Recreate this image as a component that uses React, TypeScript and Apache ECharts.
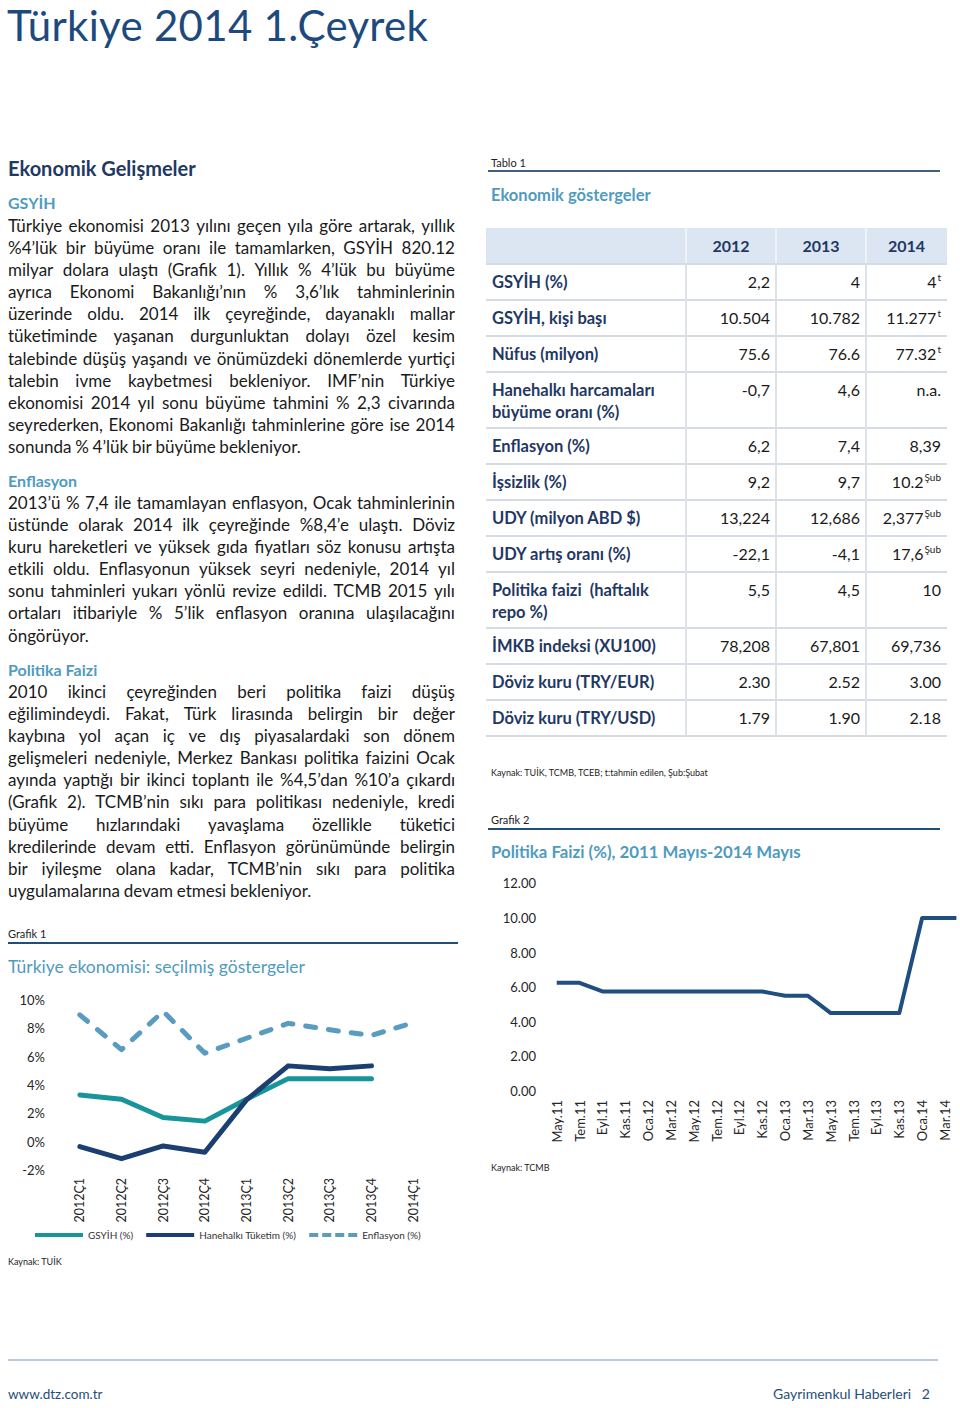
import React, { useEffect, useRef } from "react";
import * as echarts from "echarts";

// ---------- Data ----------
const quarters = ["2012Ç1", "2012Ç2", "2012Ç3", "2012Ç4", "2013Ç1", "2013Ç2", "2013Ç3", "2013Ç4", "2014Ç1"];
const gsyihGrowth = [3.3, 3.0, 1.7, 1.45, 3.0, 4.45, 4.45, 4.45, null];
const householdConsumption = [-0.35, -1.2, -0.3, -0.75, 2.95, 5.35, 5.15, 5.35, null];
const inflation = [8.95, 6.5, 9.2, 6.25, 7.3, 8.35, 7.9, 7.5, 8.4];
const chart1Ticks = { min: -2, max: 10, step: 2 };

const months = [
  "May.11", "Haz.11", "Tem.11", "Ağu.11", "Eyl.11", "Eki.11", "Kas.11", "Ara.11",
  "Oca.12", "Şub.12", "Mar.12", "Nis.12", "May.12", "Haz.12", "Tem.12", "Ağu.12",
  "Eyl.12", "Eki.12", "Kas.12", "Ara.12", "Oca.13", "Şub.13", "Mar.13", "Nis.13",
  "May.13", "Haz.13", "Tem.13", "Ağu.13", "Eyl.13", "Eki.13", "Kas.13", "Ara.13",
  "Oca.14", "Şub.14", "Mar.14", "Nis.14",
];
const policyRate = [
  6.25, 6.25, 6.25, 6.0, 5.75, 5.75, 5.75, 5.75,
  5.75, 5.75, 5.75, 5.75, 5.75, 5.75, 5.75, 5.75,
  5.75, 5.75, 5.75, 5.625, 5.5, 5.5, 5.5, 5.0,
  4.5, 4.5, 4.5, 4.5, 4.5, 4.5, 4.5, 7.25,
  10, 10, 10, 10,
];
const chart2Ticks = { min: 0, max: 12, step: 2 };

const tableYears = ["2012", "2013", "2014"];
const rowLabels = [
  ["GSYİH (%)"],
  ["GSYİH, kişi başı"],
  ["Nüfus (milyon)"],
  ["Hanehalkı harcamaları", "büyüme oranı (%)"],
  ["Enflasyon (%)"],
  ["İşsizlik (%)"],
  ["UDY (milyon ABD $)"],
  ["UDY artış oranı (%)"],
  ["Politika faizi  (haftalık", "repo %)"],
  ["İMKB indeksi (XU100)"],
  ["Döviz kuru (TRY/EUR)"],
  ["Döviz kuru (TRY/USD)"],
];
const values2012 = ["2,2", "10.504", "75.6", "-0,7", "6,2", "9,2", "13,224", "-22,1", "5,5", "78,208", "2.30", "1.79"];
const values2013 = ["4", "10.782", "76.6", "4,6", "7,4", "9,7", "12,686", "-4,1", "4,5", "67,801", "2.52", "1.90"];
const values2014 = ["4", "11.277", "77.32", "n.a.", "8,39", "10.2", "2,377", "17,6", "10", "69,736", "3.00", "2.18"];
const notes2014 = ["t", "t", "t", "", "", "Şub", "Şub", "Şub", "", "", "", ""];

const gsyihLines = [
  "Türkiye ekonomisi 2013 yılını geçen yıla göre artarak, yıllık",
  "%4’lük bir büyüme oranı ile tamamlarken, GSYİH 820.12",
  "milyar dolara ulaştı (Grafik 1). Yıllık % 4’lük bu büyüme",
  "ayrıca Ekonomi Bakanlığı’nın % 3,6’lık tahminlerinin",
  "üzerinde oldu.  2014 ilk çeyreğinde, dayanaklı mallar",
  "tüketiminde yaşanan durgunluktan dolayı özel kesim",
  "talebinde düşüş yaşandı ve önümüzdeki dönemlerde yurtiçi",
  "talebin ivme kaybetmesi bekleniyor. IMF’nin Türkiye",
  "ekonomisi 2014 yıl sonu büyüme tahmini % 2,3 civarında",
  "seyrederken, Ekonomi Bakanlığı tahminlerine göre ise 2014",
  "sonunda % 4’lük bir büyüme bekleniyor.",
];
const enflasyonLines = [
  "2013’ü % 7,4 ile tamamlayan enflasyon, Ocak tahminlerinin",
  "üstünde olarak 2014 ilk çeyreğinde %8,4’e ulaştı.  Döviz",
  "kuru hareketleri ve yüksek gıda fiyatları söz konusu artışta",
  "etkili oldu.  Enflasyonun yüksek seyri nedeniyle, 2014 yıl",
  "sonu tahminleri yukarı yönlü revize edildi.  TCMB 2015 yılı",
  "ortaları itibariyle % 5’lik enflasyon oranına ulaşılacağını",
  "öngörüyor.",
];
const faizLines = [
  "2010 ikinci çeyreğinden beri politika faizi düşüş",
  "eğilimindeydi.  Fakat, Türk lirasında belirgin bir değer",
  "kaybına yol açan iç ve dış piyasalardaki son dönem",
  "gelişmeleri nedeniyle, Merkez Bankası politika faizini Ocak",
  "ayında yaptığı bir ikinci toplantı ile %4,5’dan %10’a çıkardı",
  "(Grafik 2).  TCMB’nin sıkı para politikası nedeniyle, kredi",
  "büyüme hızlarındaki yavaşlama özellikle tüketici",
  "kredilerinde devam etti.  Enflasyon görünümünde belirgin",
  "bir iyileşme olana kadar, TCMB’nin sıkı para politika",
  "uygulamalarına devam etmesi bekleniyor.",
];

// ---------- Styles ----------
const FONT = "Lato, 'Open Sans', sans-serif";
const NAVY = "#1f3864";
const TITLE_BLUE = "#1d4a7e";
const HEAD_BLUE = "#4f9bc0";
const TEXT = "#1a1a1a";
const TEAL = "#17959b";
const DARK = "#1c3f72";
const LIGHT = "#5a9bc0";

const SOLID_ICON = "path://M0,0H48V4H0Z";
const DASH_ICON = "path://M0,0H9V4H0Z M13,0H22V4H13Z M26,0H35V4H26Z M39,0H48V4H39Z";

function EChart({ option, style }: { option: any; style: React.CSSProperties }) {
  const ref = useRef<HTMLDivElement>(null);
  useEffect(() => {
    const chart = echarts.init(ref.current as HTMLDivElement, null, { renderer: "svg" });
    chart.setOption(option);
    return () => chart.dispose();
  }, []);
  return <div ref={ref} style={style} />;
}

function Txt(props: {
  x: number; cy: number; size: number; color?: string; weight?: number | string;
  right?: boolean; children: React.ReactNode;
}) {
  const h = Math.round(props.size * 1.4);
  const st: React.CSSProperties = {
    position: "absolute",
    top: props.cy - h / 2,
    height: h,
    lineHeight: h + "px",
    fontSize: props.size,
    color: props.color || TEXT,
    fontWeight: props.weight || 400,
    whiteSpace: "nowrap",
  };
  if (props.right) st.right = 960 - props.x;
  else st.left = props.x;
  return <div style={st}>{props.children}</div>;
}

function Paragraph({ lines, x, cy0, width, lh, size }: { lines: string[]; x: number; cy0: number; width: number; lh: number; size: number }) {
  return (
    <>
      {lines.map((ln, i) => {
        const last = i === lines.length - 1;
        const words = ln.split(/\s+/);
        return (
          <div
            key={i}
            style={{
              position: "absolute",
              left: x,
              top: cy0 + i * lh - lh / 2,
              width,
              height: lh,
              lineHeight: lh + "px",
              fontSize: size,
              color: TEXT,
              whiteSpace: "nowrap",
              display: "flex",
              justifyContent: last ? "flex-start" : "space-between",
              gap: last ? "0.22em" : 0,
            }}
          >
            {words.map((w, j) => (
              <span key={j}>{w}</span>
            ))}
          </div>
        );
      })}
    </>
  );
}

function HLine({ x1, x2, y, color, w }: { x1: number; x2: number; y: number; color: string; w: number }) {
  return <div style={{ position: "absolute", left: x1, top: y - w / 2, width: x2 - x1, height: w, background: color }} />;
}

function Table() {
  const left = 486;
  const top = 228;
  const colW = [200, 90, 90, 81];
  const headH = 36;
  const rowH = rowLabels.map((l) => (l.length > 1 ? 56 : 36));
  const colX = [left, left + colW[0], left + colW[0] + colW[1], left + colW[0] + colW[1] + colW[2]];
  const totalW = colW.reduce((a, b) => a + b, 0);
  const els: React.ReactNode[] = [];
  els.push(<div key="hbg" style={{ position: "absolute", left, top, width: totalW, height: headH, background: "#dbe6f2" }} />);
  tableYears.forEach((yr, i) => {
    els.push(
      <div key={"h" + i} style={{ position: "absolute", left: colX[i + 1], top, width: colW[i + 1], height: headH, lineHeight: headH + "px", textAlign: "center", fontWeight: 700, fontSize: 16, color: NAVY }}>
        {yr}
      </div>
    );
  });
  for (let i = 1; i < 4; i++) {
    els.push(<div key={"hs" + i} style={{ position: "absolute", left: colX[i] - 1, top, width: 2, height: headH, background: "#eef3f9" }} />);
  }
  let y = top + headH;
  const yStart = y;
  rowLabels.forEach((lab, r) => {
    const h = rowH[r];
    els.push(<HLine key={"rl" + r} x1={left} x2={left + totalW} y={y} color="#d6dce4" w={2} />);
    els.push(
      <div key={"lab" + r} style={{ position: "absolute", left: left + 6, top: y + 7, lineHeight: "22px", fontWeight: 700, fontSize: 16.5, color: NAVY, whiteSpace: "pre" }}>
        {lab.map((l, k) => (
          <div key={k}>{l}</div>
        ))}
      </div>
    );
    const vals = [values2012[r], values2013[r], values2014[r]];
    vals.forEach((v, c) => {
      const note = c === 2 ? notes2014[r] : "";
      els.push(
        <div key={"v" + r + "_" + c} style={{ position: "absolute", left: colX[c + 1], top: y + 7, width: colW[c + 1] - 6, textAlign: "right", lineHeight: "22px", fontSize: 16, color: TEXT, whiteSpace: "nowrap" }}>
          {v}
          {note ? <span style={{ fontSize: 10, position: "relative", top: -7, marginLeft: 1 }}>{note}</span> : null}
        </div>
      );
    });
    y += h;
  });
  els.push(<HLine key="bottom" x1={left} x2={left + totalW} y={y} color="#d6dce4" w={2} />);
  for (let i = 1; i < 4; i++) {
    els.push(<div key={"vs" + i} style={{ position: "absolute", left: colX[i] - 1, top: yStart, width: 2, height: y - yStart, background: "#dde2e8" }} />);
  }
  return <>{els}</>;
}

const chart1Option = {
  animation: false,
  textStyle: { fontFamily: FONT },
  grid: { left: 59, top: 25, width: 375, height: 170 },
  legend: {
    left: 30,
    top: 250,
    itemWidth: 48,
    itemHeight: 4,
    itemGap: 13,
    textStyle: { fontSize: 10, color: "#333", fontFamily: FONT },
    data: [
      { name: "GSYİH (%)", icon: SOLID_ICON },
      { name: "Hanehalkı Tüketim (%)", icon: SOLID_ICON },
      { name: "Enflasyon (%)", icon: DASH_ICON },
    ],
  },
  xAxis: {
    type: "category",
    data: quarters,
    boundaryGap: true,
    axisLine: { show: false },
    axisTick: { show: false },
    axisLabel: { rotate: 90, margin: 8, fontSize: 12.5, color: "#262626", interval: 0 },
  },
  yAxis: {
    type: "value",
    min: chart1Ticks.min,
    max: chart1Ticks.max,
    interval: chart1Ticks.step,
    splitLine: { show: false },
    axisLine: { show: false },
    axisTick: { show: false },
    axisLabel: { formatter: "{value}%", margin: 14, fontSize: 13, color: "#262626" },
  },
  series: [
    {
      name: "GSYİH (%)",
      type: "line",
      data: gsyihGrowth,
      symbol: "none",
      lineStyle: { color: TEAL, width: 5, join: "round", cap: "round" },
      itemStyle: { color: TEAL },
    },
    {
      name: "Hanehalkı Tüketim (%)",
      type: "line",
      data: householdConsumption,
      symbol: "none",
      lineStyle: { color: DARK, width: 5, join: "round", cap: "round" },
      itemStyle: { color: DARK },
    },
    {
      name: "Enflasyon (%)",
      type: "line",
      data: inflation,
      symbol: "none",
      lineStyle: { color: LIGHT, width: 5, type: [10, 13], cap: "round", join: "round" },
      itemStyle: { color: LIGHT },
    },
  ],
};

const chart2Option = {
  animation: false,
  textStyle: { fontFamily: FONT },
  grid: { left: 76.7, top: 13.3, width: 399.7, height: 207.7 },
  xAxis: {
    type: "category",
    data: months,
    boundaryGap: false,
    axisLine: { show: false },
    axisTick: { show: false },
    axisLabel: { rotate: 90, margin: 9, fontSize: 13, color: "#262626", interval: 1 },
  },
  yAxis: {
    type: "value",
    min: chart2Ticks.min,
    max: chart2Ticks.max,
    interval: chart2Ticks.step,
    splitLine: { show: false },
    axisLine: { show: false },
    axisTick: { show: false },
    axisLabel: { formatter: (v: number) => v.toFixed(2), margin: 20.7, fontSize: 13, color: "#262626" },
  },
  series: [
    {
      name: "Politika Faizi (%)",
      type: "line",
      data: policyRate,
      symbol: "none",
      lineStyle: { color: "#1f4e80", width: 4, join: "round" },
      itemStyle: { color: "#1f4e80" },
    },
  ],
};

export default function App() {
  return (
    <div style={{ position: "absolute", left: 0, top: 0, width: 960, height: 1408, background: "#fff", fontFamily: FONT, overflow: "hidden" }}>
      <div style={{ position: "absolute", left: 7, top: 0, fontSize: 42, lineHeight: "normal", color: TITLE_BLUE, whiteSpace: "nowrap", letterSpacing: 0.3 }}>
        Türkiye 2014 1.Çeyrek
      </div>

      {/* Left column */}
      <Txt x={8} cy={168} size={20} color={NAVY} weight={700}>Ekonomik Gelişmeler</Txt>
      <Txt x={8} cy={203} size={16} color={HEAD_BLUE} weight={700}>GSYİH</Txt>
      <Paragraph lines={gsyihLines} x={8} cy0={226} width={447} lh={22.1} size={17} />
      <Txt x={8} cy={481} size={16} color={HEAD_BLUE} weight={700}>Enflasyon</Txt>
      <Paragraph lines={enflasyonLines} x={8} cy0={503} width={447} lh={22.1} size={17} />
      <Txt x={8} cy={670} size={16} color={HEAD_BLUE} weight={700}>Politika Faizi</Txt>
      <Paragraph lines={faizLines} x={8} cy0={692} width={447} lh={22.1} size={17} />

      <Txt x={8} cy={933} size={11} color="#222">Grafik 1</Txt>
      <HLine x1={8} x2={458} y={943} color="#1f4e79" w={1.5} />
      <Txt x={8} cy={966} size={17.5} color={HEAD_BLUE}>Türkiye ekonomisi: seçilmiş göstergeler</Txt>
      <EChart option={chart1Option} style={{ position: "absolute", left: 0, top: 975, width: 480, height: 275 }} />
      <Txt x={8} cy={1261} size={9} color="#222">Kaynak: TUİK</Txt>

      {/* Right column */}
      <Txt x={491} cy={162} size={11} color="#222">Tablo 1</Txt>
      <HLine x1={488} x2={940} y={171} color="#44607f" w={1.5} />
      <Txt x={491} cy={195} size={16.5} color={HEAD_BLUE} weight={700}>Ekonomik göstergeler</Txt>
      <Table />
      <Txt x={491} cy={772} size={9} color="#222">Kaynak: TUİK, TCMB, TCEB; t:tahmin edilen, Şub:Şubat</Txt>
      <Txt x={491} cy={819} size={11} color="#222">Grafik 2</Txt>
      <HLine x1={488} x2={940} y={829} color="#1f4e79" w={1.5} />
      <Txt x={491} cy={852} size={16.8} color={HEAD_BLUE} weight={700}>Politika Faizi (%), 2011 Mayıs-2014 Mayıs</Txt>
      <EChart option={chart2Option} style={{ position: "absolute", left: 480, top: 870, width: 480, height: 290 }} />
      <Txt x={491} cy={1167} size={9} color="#222">Kaynak: TCMB</Txt>

      {/* Footer */}
      <HLine x1={8} x2={938} y={1360} color="#b9c9db" w={1.5} />
      <Txt x={8} cy={1394} size={13.5} color="#1f4e79">www.dtz.com.tr</Txt>
      <Txt x={930} cy={1394} size={14} color="#1f4e79" right>Gayrimenkul Haberleri&nbsp;&nbsp;&nbsp;2</Txt>
    </div>
  );
}
